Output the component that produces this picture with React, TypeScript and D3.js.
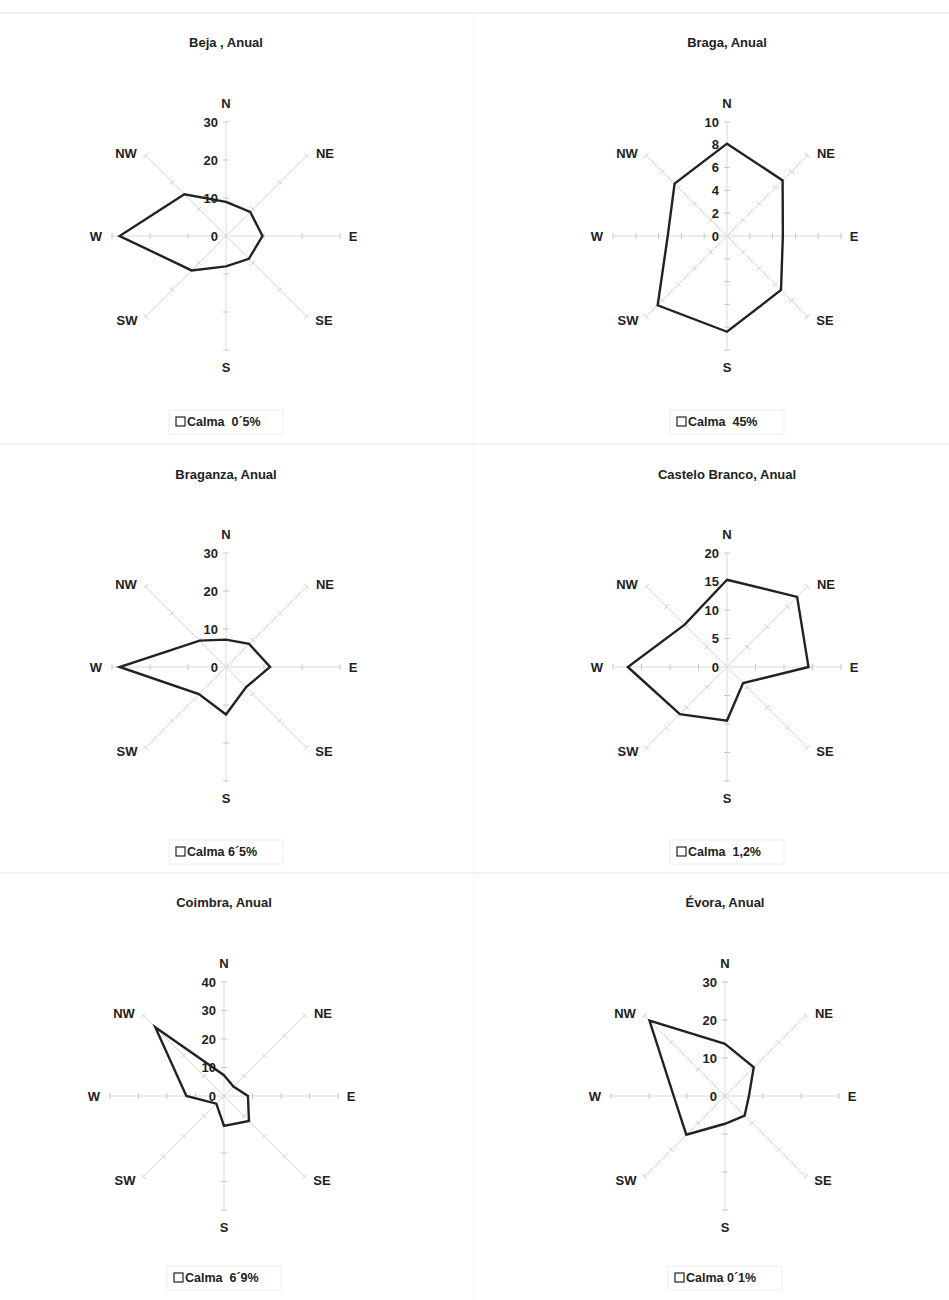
import React from "react";
import * as d3 from "d3";

const directions = ["N", "NE", "E", "SE", "S", "SW", "W", "NW"];

const titles = [
  "Beja , Anual",
  "Braga, Anual",
  "Braganza, Anual",
  "Castelo Branco, Anual",
  "Coimbra, Anual",
  "Évora, Anual",
];

const calmaLabels = [
  "Calma  0´5%",
  "Calma  45%",
  "Calma 6´5%",
  "Calma  1,2%",
  "Calma  6´9%",
  "Calma 0´1%",
];

const bejaValues = [9, 9, 9.6, 8.5, 8, 12.8, 28, 15.5];
const bragaValues = [8.1, 6.9, 4.9, 6.7, 8.4, 8.6, 5.2, 6.5];
const braganzaValues = [7.2, 8.6, 11.6, 7.5, 12.5, 10.1, 28, 9.8];
const casteloBrancoValues = [15.3, 17.4, 14.3, 4.0, 9.4, 11.7, 17.4, 10.5];
const coimbraValues = [7.3, 4.7, 8.4, 12.4, 10.5, 3.8, 13.2, 34.1];
const evoraValues = [13.7, 10.7, 6.3, 7.3, 7.3, 14.4, 13.5, 28.1];

const bejaTicks = [0, 10, 20, 30];
const bragaTicks = [0, 2, 4, 6, 8, 10];
const braganzaTicks = [0, 10, 20, 30];
const casteloBrancoTicks = [0, 5, 10, 15, 20];
const coimbraTicks = [0, 10, 20, 30, 40];
const evoraTicks = [0, 10, 20, 30];

const seriesList = [bejaValues, bragaValues, braganzaValues, casteloBrancoValues, coimbraValues, evoraValues];
const tickList = [bejaTicks, bragaTicks, braganzaTicks, casteloBrancoTicks, coimbraTicks, evoraTicks];

const FONT = "'Liberation Sans', Arial, sans-serif";
const RMAX = 114;

const labelOffsets: Record<string, [number, number]> = {
  N: [0, -133],
  NE: [99, -83],
  E: [127, 0],
  SE: [98, 84],
  S: [0, 131],
  SW: [-99, 84],
  W: [-130, 0],
  NW: [-100, -83],
};

function Radar({ idx, cx, cy, titleY, legendY }: { idx: number; cx: number; cy: number; titleY: number; legendY: number }) {
  const values = seriesList[idx];
  const ticks = tickList[idx];
  const max = ticks[ticks.length - 1];
  const r = d3.scaleLinear().domain([0, max]).range([0, RMAX]);
  const angle = d3.scalePoint<string>().domain(directions).range([0, (Math.PI * 2 * 7) / 8]);
  const line = d3
    .lineRadial<number>()
    .angle((_, i) => angle(directions[i]) as number)
    .radius((d) => r(d))
    .curve(d3.curveLinearClosed);

  return (
    <g>
      <text x={cx} y={titleY} textAnchor="middle" dominantBaseline="central" fontFamily={FONT} fontWeight="bold" fontSize={13} fill="#222">
        {titles[idx]}
      </text>
      <g transform={`translate(${cx},${cy})`}>
        {directions.map((d) => {
          const a = angle(d) as number;
          const sx = Math.sin(a);
          const sy = -Math.cos(a);
          return (
            <g key={d}>
              <line x1={0} y1={0} x2={sx * RMAX} y2={sy * RMAX} stroke="#d9d9d9" strokeWidth={1} />
              {ticks.slice(1).map((t) => {
                const rr = r(t);
                const px = -sy * 3;
                const py = sx * 3;
                return (
                  <line
                    key={t}
                    x1={sx * rr - px}
                    y1={sy * rr - py}
                    x2={sx * rr + px}
                    y2={sy * rr + py}
                    stroke="#c6c6c6"
                    strokeWidth={1}
                  />
                );
              })}
            </g>
          );
        })}
        <path d={line(values) || ""} fill="none" stroke="#222" strokeWidth={2.4} strokeLinejoin="miter" />
        {ticks.map((t) => (
          <text key={t} x={-8} y={-r(t)} textAnchor="end" dominantBaseline="central" fontFamily={FONT} fontWeight="bold" fontSize={13} fill="#222">
            {t}
          </text>
        ))}
        {directions.map((d) => (
          <text
            key={d}
            x={labelOffsets[d][0]}
            y={labelOffsets[d][1]}
            textAnchor="middle"
            dominantBaseline="central"
            fontFamily={FONT}
            fontWeight="bold"
            fontSize={13}
            fill="#222"
          >
            {d}
          </text>
        ))}
      </g>
      <g transform={`translate(${cx},${legendY})`}>
        <rect x={-57} y={-12} width={114} height={24} fill="none" stroke="#eeeeee" strokeWidth={1} />
        <rect x={-50} y={-5} width={9} height={9} fill="#fff" stroke="#222" strokeWidth={1.2} />
        <text x={-39} y={0} dominantBaseline="central" fontFamily={FONT} fontWeight="bold" fontSize={12.5} fill="#222" style={{ whiteSpace: "pre" }}>
          {calmaLabels[idx]}
        </text>
      </g>
    </g>
  );
}

export default function App() {
  const colX = [226, 727];
  const rows = [
    { cy: 236, titleY: 42, legendY: 422 },
    { cy: 667, titleY: 474, legendY: 852 },
    { cy: 1096, titleY: 902, legendY: 1278 },
  ];
  return (
    <div style={{ position: "absolute", left: 0, top: 0 }}>
      <svg width={949} height={1300} style={{ display: "block", background: "#fff" }}>
        <line x1={0} y1={13} x2={949} y2={13} stroke="#ececec" strokeWidth={1.5} />
        <line x1={0} y1={444} x2={949} y2={444} stroke="#ececec" strokeWidth={1.5} />
        <line x1={0} y1={873} x2={949} y2={873} stroke="#ececec" strokeWidth={1.5} />
        <line x1={474} y1={13} x2={474} y2={1300} stroke="#f3f3f3" strokeWidth={1} />
        {rows.map((row, ri) =>
          colX.map((cx, ci) => {
            const idx = ri * 2 + ci;
            const x = ri === 2 ? cx - 2 : cx;
            return <Radar key={idx} idx={idx} cx={x} cy={row.cy} titleY={row.titleY} legendY={row.legendY} />;
          })
        )}
      </svg>
    </div>
  );
}
